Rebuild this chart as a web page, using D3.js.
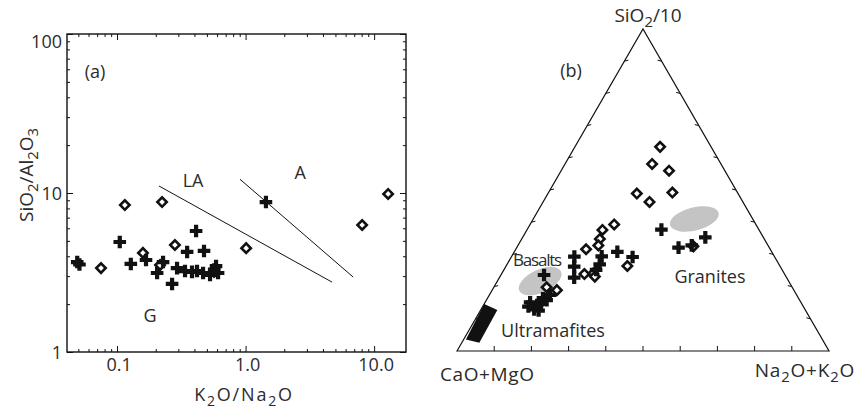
<!DOCTYPE html>
<html>
<head>
<meta charset="utf-8">
<script src="https://cdn.jsdelivr.net/npm/d3@7"></script>
<style>
  body { margin: 0; background: #fff; }
  svg { display: block; }
  text { font-family: "Open Sans", sans-serif; fill: #2b2b2b; }
</style>
</head>
<body>
<svg id="chart" width="856" height="410"></svg>
<script>
// ---- Panel (a): SiO2/Al2O3 vs K2O/Na2O (log–log) ----
const xTicksA = [0.1, 1, 10];
const xTickLabelsA = ["0.1", "1.0", "10.0"];
const yTicksA = [1, 10, 100];
const yTickLabelsA = ["1", "10", "100"];

// [K2O/Na2O, SiO2/Al2O3]
const diamondsA = [
  [0.115, 8.4], [0.224, 8.77], [0.075, 3.37], [0.159, 4.2], [0.282, 4.71],
  [1.01, 4.5], [8.07, 6.29], [12.85, 9.86], [0.216, 3.52], [0.569, 3.19]
];
const crossesA = [
  [0.049, 3.68], [0.051, 3.55], [0.105, 4.92], [0.128, 3.58], [0.168, 3.79],
  [0.205, 3.14], [0.228, 3.68], [0.268, 2.68], [0.412, 5.77], [0.351, 4.26],
  [0.475, 4.32], [0.293, 3.37], [0.338, 3.23], [0.383, 3.19], [0.419, 3.23],
  [0.467, 3.14], [0.529, 3.05], [0.589, 3.47], [0.611, 3.14], [0.57, 3.3],
  [1.44, 8.77]
];
// field boundaries
const boundaryLA = [[0.212, 11.07], [4.71, 2.75]];
const boundaryA = [[0.905, 12.2], [6.87, 2.96]];

// ---- Panel (b): SiO2/10 – (CaO+MgO) – (Na2O+K2O) ternary, in % ----
// [SiO2/10, CaO+MgO, Na2O+K2O]
const diamondsB = [
  [63.4, 13.7, 22.9], [58.1, 18.5, 23.4], [56.0, 15.0, 29.0], [48.9, 27.2, 23.9],
  [49.2, 17.5, 33.3], [46.3, 25.1, 28.6], [39.3, 38.1, 22.6], [37.6, 42.1, 20.3],
  [34.8, 44.2, 21.0], [32.8, 45.6, 21.6], [31.6, 49.5, 18.9], [23.9, 53.8, 22.3],
  [24.1, 51.3, 24.6], [23.1, 51.4, 25.5], [26.4, 41.0, 32.6], [19.8, 66.0, 14.2],
  [18.9, 63.7, 17.4], [32.5, 20.2, 47.3]
];
const crossesB = [
  [37.7, 26.2, 36.1], [32.1, 24.4, 43.5], [32.8, 20.5, 46.7], [35.3, 15.6, 49.1],
  [29.3, 53.8, 16.9], [26.2, 55.4, 18.4], [22.8, 57.1, 20.1], [29.4, 46.4, 24.2],
  [26.9, 48.2, 24.9], [25.2, 50.0, 24.8], [30.8, 41.5, 27.7], [29.2, 38.2, 32.6],
  [23.6, 64.8, 11.6], [17.4, 66.3, 16.3], [16.4, 68.7, 14.9], [15.8, 68.0, 16.2],
  [15.1, 72.8, 12.1], [13.8, 73.9, 12.3], [12.9, 72.8, 14.3], [12.6, 72.0, 15.7],
  [14.3, 71.3, 14.4], [14.6, 70.1, 15.3]
];
// reference fields
const ultramafiteField = [[3.6, 95.8, 0.6], [14.6, 85.4, 0.0], [12.7, 82.8, 4.5], [2.6, 92.7, 4.7]];
const basaltCentre = [21.7, 66.8, 11.5];
const graniteCentre = [41.0, 15.7, 43.3];
const ternaryTicks = [10, 20, 30, 40, 50, 60, 70, 80, 90];

const svg = d3.select("#chart");

// helper: text with subscripts; parts = [[string, isSub], ...]
function richText(g, parts, size) {
  const t = g.append("text").attr("font-size", size);
  let sub = false;
  parts.forEach(([s, isSub]) => {
    const ts = t.append("tspan").text(s);
    if (isSub && !sub) ts.attr("dy", size * 0.28).attr("font-size", size * 0.78);
    else if (!isSub && sub) ts.attr("dy", -size * 0.28);
    else if (isSub) ts.attr("font-size", size * 0.78);
    sub = isSub;
  });
  return t;
}

const crossSym = d3.symbol().type(d3.symbolCross).size(88);
const squareSym = d3.symbol().type(d3.symbolSquare).size(44);

function drawDiamonds(g, pts) {
  g.selectAll(null).data(pts).join("path")
    .attr("d", squareSym)
    .attr("transform", d => `translate(${d[0]},${d[1]}) rotate(45)`)
    .attr("fill", "#fff").attr("stroke", "#111").attr("stroke-width", 2.6);
}
function drawCrosses(g, pts) {
  g.selectAll(null).data(pts).join("path")
    .attr("d", crossSym)
    .attr("transform", d => `translate(${d[0]},${d[1]})`)
    .attr("fill", "#111");
}

// ================= Panel (a) =================
const L = 67, R = 406, T = 34, B = 352;
const xA = d3.scaleLog().domain([0.0408, 17.7]).range([L, R]);
const yA = d3.scaleLog().domain([1, 100]).range([B, T]);
const gA = svg.append("g");

const isMajor = v => Math.abs(Math.log10(v) - Math.round(Math.log10(v))) < 1e-9;
const xMinor = xA.ticks().filter(v => !isMajor(v));
const yMinor = yA.ticks().filter(v => !isMajor(v));

function styleAxis(sel) {
  sel.select(".domain").remove();
  sel.selectAll(".tick line").attr("stroke", "#111").attr("stroke-width", 1);
}
const axes = [
  [d3.axisBottom, xA, `translate(0,${B})`, xMinor, xTicksA],
  [d3.axisTop, xA, `translate(0,${T})`, xMinor, xTicksA],
  [d3.axisLeft, yA, `translate(${L},0)`, yMinor, yTicksA],
  [d3.axisRight, yA, `translate(${R},0)`, yMinor, yTicksA]
];
axes.forEach(([ax, sc, tr, minor, major]) => {
  gA.append("g").attr("transform", tr)
    .call(ax(sc).tickValues(minor).tickSize(-3).tickFormat(""))
    .call(styleAxis);
  gA.append("g").attr("transform", tr)
    .call(ax(sc).tickValues(major).tickSize(-6).tickFormat(""))
    .call(styleAxis);
});

// tick labels
gA.append("g").selectAll("text").data(xTicksA).join("text")
  .attr("x", d => xA(d) + 2).attr("y", B + 19)
  .attr("text-anchor", "middle").attr("font-size", 18)
  .text((d, i) => xTickLabelsA[i]);
gA.append("g").selectAll("text").data(yTicksA).join("text")
  .attr("x", L - 5).attr("y", d => yA(d) + (d === 100 ? 14 : 7))
  .attr("text-anchor", "end").attr("font-size", 18)
  .text((d, i) => yTickLabelsA[i]);

// frame
gA.append("rect").attr("x", L).attr("y", T).attr("width", R - L).attr("height", B - T)
  .attr("fill", "none").attr("stroke", "#111").attr("stroke-width", 1.4);

// boundaries
const lineA = d3.line().x(d => xA(d[0])).y(d => yA(d[1]));
[boundaryLA, boundaryA].forEach(b =>
  gA.append("path").attr("d", lineA(b)).attr("fill", "none")
    .attr("stroke", "#111").attr("stroke-width", 1));

drawDiamonds(gA, diamondsA.map(d => [xA(d[0]), yA(d[1])]));
drawCrosses(gA, crossesA.map(d => [xA(d[0]), yA(d[1])]));

// field labels
gA.append("text").attr("x", xA(0.39)).attr("y", yA(12.1) + 7)
  .attr("text-anchor", "middle").attr("font-size", 18).text("LA");
gA.append("text").attr("x", xA(2.66)).attr("y", yA(13.6) + 7)
  .attr("text-anchor", "middle").attr("font-size", 18).text("A");
gA.append("text").attr("x", xA(0.181)).attr("y", yA(1.71) + 7)
  .attr("text-anchor", "middle").attr("font-size", 18).text("G");
gA.append("text").attr("x", 95).attr("y", 78)
  .attr("text-anchor", "middle").attr("font-size", 18).text("(a)");

// axis titles
richText(gA, [["K", false], ["2", true], ["O/N", false], ["a", false], ["2", true], ["O", false]], 18)
  .attr("x", 244).attr("y", 401).attr("text-anchor", "middle").attr("letter-spacing", 1.8);
richText(gA, [["SiO", false], ["2", true], ["/Al", false], ["2", true], ["O", false], ["3", true]], 19)
  .attr("text-anchor", "middle")
  .attr("transform", "translate(33,175) rotate(-90)");

// ================= Panel (b) =================
const S3 = Math.sqrt(3) / 2;
const tx = d3.scaleLinear().domain([0, 1]).range([457, 829]);
const ty = d3.scaleLinear().domain([0, S3]).range([351, 29]);
function proj([s, c, n]) {
  const t = s + c + n, a = s / t, b = n / t;
  return [tx(b + a / 2), ty(a * S3)];
}
const gB = svg.append("g");

// triangle
const apex = proj([100, 0, 0]), left = proj([0, 100, 0]), right = proj([0, 0, 100]);
gB.append("path").attr("d", `M${left}L${apex}L${right}Z`)
  .attr("fill", "none").attr("stroke", "#111").attr("stroke-width", 1.2);

// ticks along each side
ternaryTicks.forEach(k => {
  const pb = proj([0, 100 - k, k]);
  gB.append("line").attr("x1", pb[0]).attr("x2", pb[0]).attr("y1", pb[1]).attr("y2", pb[1] - 5)
    .attr("stroke", "#111");
  const pl = proj([k, 100 - k, 0]);
  gB.append("line").attr("x1", pl[0]).attr("x2", pl[0] + 4).attr("y1", pl[1]).attr("y2", pl[1] - 1)
    .attr("stroke", "#111");
  const pr = proj([k, 0, 100 - k]);
  gB.append("line").attr("x1", pr[0]).attr("x2", pr[0] - 4).attr("y1", pr[1]).attr("y2", pr[1] - 1)
    .attr("stroke", "#111");
});

// reference fields
const bc = proj(basaltCentre), gc = proj(graniteCentre);
gB.append("ellipse").attr("cx", bc[0]).attr("cy", bc[1]).attr("rx", 23).attr("ry", 11.5)
  .attr("transform", `rotate(-25,${bc[0]},${bc[1]})`).attr("fill", "#c4c4c4");
gB.append("ellipse").attr("cx", gc[0]).attr("cy", gc[1]).attr("rx", 25).attr("ry", 11.5)
  .attr("transform", `rotate(-14,${gc[0]},${gc[1]})`).attr("fill", "#c4c4c4");
gB.append("path").attr("d", d3.line()(ultramafiteField.map(proj)) + "Z").attr("fill", "#111");

drawDiamonds(gB, diamondsB.map(proj));
drawCrosses(gB, crossesB.map(proj));

// labels
richText(gB, [["SiO", false], ["2", true], ["/10", false]], 19)
  .attr("x", 648).attr("y", 22).attr("text-anchor", "middle");
gB.append("text").attr("x", 571).attr("y", 77).attr("text-anchor", "middle")
  .attr("font-size", 18).text("(b)");
gB.append("text").attr("x", 537).attr("y", 266).attr("text-anchor", "middle")
  .attr("font-size", 17).attr("letter-spacing", -1.2).text("Basalts");
gB.append("text").attr("x", 710).attr("y", 283).attr("text-anchor", "middle")
  .attr("font-size", 18).text("Granites");
gB.append("text").attr("x", 553).attr("y", 337).attr("text-anchor", "middle")
  .attr("font-size", 18).text("Ultramafites");
gB.append("text").attr("x", 440).attr("y", 381).attr("font-size", 19)
  .attr("letter-spacing", 0.6).text("CaO+MgO");
richText(gB, [["Na", false], ["2", true], ["O+K", false], ["2", true], ["O", false]], 19)
  .attr("x", 855).attr("y", 377).attr("text-anchor", "end").attr("letter-spacing", 0.8);
</script>
</body>
</html>
